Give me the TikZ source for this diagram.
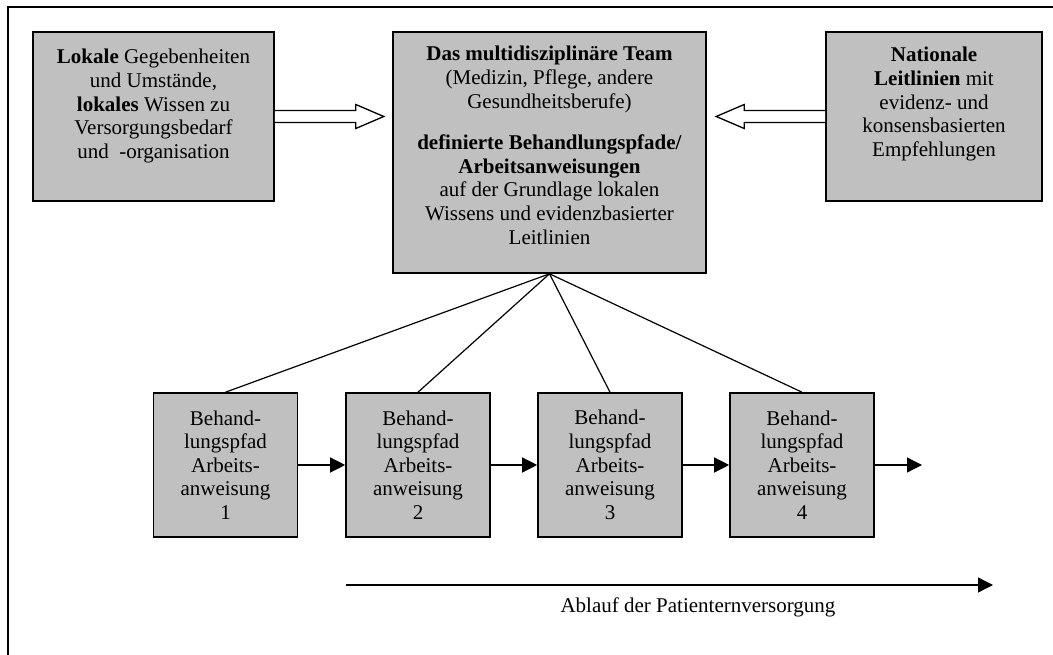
\documentclass[tikz,border=0pt]{standalone}
\usepackage{fontspec}
\setmainfont{Liberation Serif}
\usepackage{tikz}
\usetikzlibrary{arrows.meta,calc}
\definecolor{kastengrau}{HTML}{C0C0C0}
\tikzset{
  kasten/.style={draw, line width=1.6pt, fill=kastengrau, inner sep=0pt},
  schrift/.style={font=\fontsize{21}{23.6}\selectfont, align=center, inner sep=0pt},
  pfeil/.style={line width=1.3pt, -{Triangle[length=15pt,width=15pt]}},
  hohlpfeil/.style={draw, line width=1.3pt, fill=white},
}

\begin{document}
\begin{tikzpicture}[x=1pt,y=-1pt]
                            \useasboundingbox (0,0) rectangle (1053,655);
                            % Rahmen
                            \draw[line width=1.6pt] (8,7) rectangle (1080,680);
                            % Obere Kaesten
                            \node[kasten, minimum width=241, minimum height=169] (lokal) at (153.5,116.5) {};
                            \node[kasten, minimum width=313, minimum height=241] (team) at (549.5,152.5) {};
                            \node[kasten, minimum width=216, minimum height=169] (national) at (934,116.5) {};
                            \node[schrift, anchor=north] (lokaltext) at ($(lokal.north)+(0,18)$)
                              {\textbf{Lokale} Gegebenheiten\\und Umstände,\\\textbf{lokales} Wissen zu\\Versorgungsbedarf\\und~ -organisation};
                            \node[schrift, anchor=north] (teamtext) at ($(team.north)+(0,15)$)
                              {\textbf{Das multidisziplinäre Team}\\(Medizin, Pflege, andere\\Gesundheitsberufe)\\[18pt]
                               \textbf{definierte Behandlungspfade/}\\\textbf{Arbeitsanweisungen}\\auf der Grundlage lokalen\\Wissens und evidenzbasierter\\Leitlinien};
                            \node[schrift, anchor=north] (nationaltext) at ($(national.north)+(0,16)$)
                              {\textbf{Nationale}\\\textbf{Leitlinien} mit\\evidenz- und\\konsensbasierten\\Empfehlungen};
                            % Hohlpfeile
                            \draw[hohlpfeil] ($(lokal.east)+(0,-6)$) -- ++(81,0) -- ++(0,-6) -- ++(28,12)
                              -- ++(-28,12) -- ++(0,-6) -- ++(-81,0);
                            \draw[hohlpfeil] ($(national.west)+(0,-6)$) -- ++(-81,0) -- ++(0,-6) -- ++(-28,12)
                              -- ++(28,12) -- ++(0,-6) -- ++(81,0);
                            % Behandlungspfade
                            \foreach \i/\x in {1/225.5, 2/418, 3/610, 4/802} {
                              \node[kasten, schrift, minimum width=144, minimum height=144] (pfad\i) at (\x,465)
                                {Behand-\\lungspfad\\Arbeits-\\anweisung\\\i};
                            }
                            % Kanten
                            \foreach \i in {1,...,4} {
                              \draw[line width=1.2pt] (team.south) -- (pfad\i.north);
                            }
                            \foreach \source/\target in {1/2, 2/3, 3/4} {
                              \draw[pfeil] (pfad\source) -- (pfad\target);
                            }
                            \coordinate (weiter) at (922,465);
                            \draw[pfeil] (pfad4) -- (weiter);
                            % Zeitachse
                            \coordinate (start) at (346,585);
                            \coordinate (ziel) at (993,585);
                            \draw[pfeil] (start) -- (ziel);
                            \node[schrift, anchor=base] (ablauf) at (698,612) {Ablauf der Patienternversorgung};
                        \end{tikzpicture}
\end{document}
